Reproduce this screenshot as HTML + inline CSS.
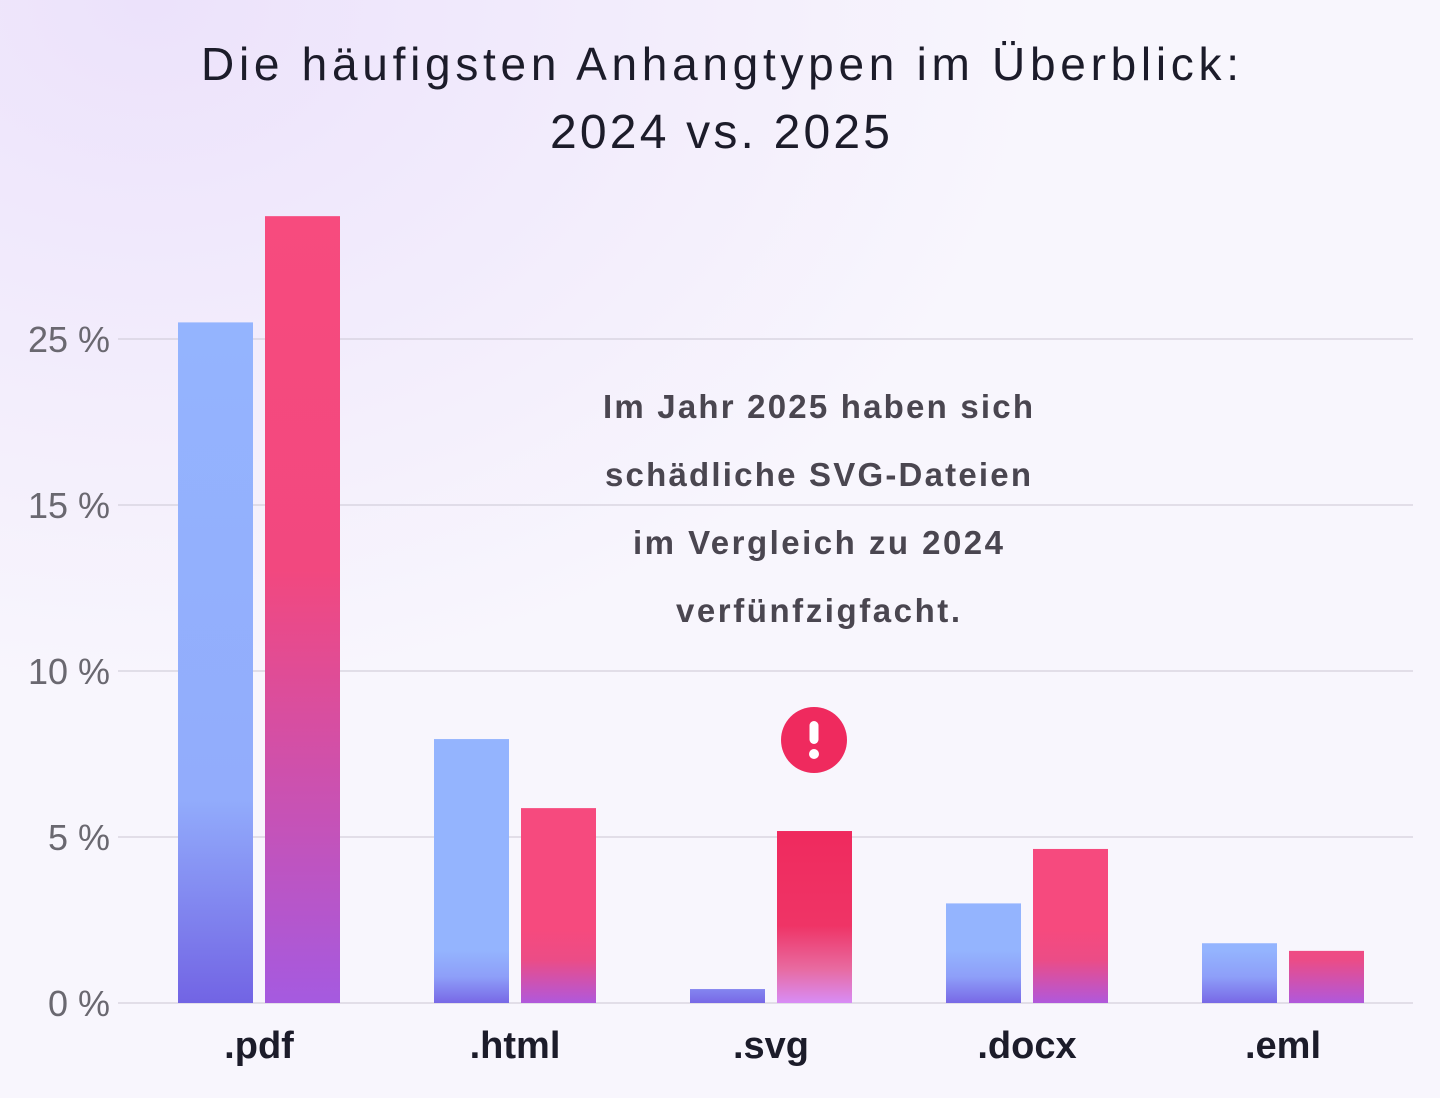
<!DOCTYPE html>
<html><head><meta charset="utf-8"><style>
body{margin:0;width:1440px;height:1098px;overflow:hidden;font-family:"Liberation Sans",sans-serif;}
</style></head><body>
<svg width="1440" height="1098" xmlns="http://www.w3.org/2000/svg">
<defs>
<radialGradient id="bg" cx="0" cy="0" r="1" gradientUnits="userSpaceOnUse" gradientTransform="translate(150,0) scale(900,700)">
<stop offset="0" stop-color="#ece2fb"/><stop offset="1" stop-color="#f8f6fd"/></radialGradient>
<linearGradient id="blue" x1="0" y1="0" x2="0" y2="1">
<stop offset="0" stop-color="#94b4fe"/><stop offset="0.7" stop-color="#92acfc"/><stop offset="1" stop-color="#7264e4"/></linearGradient>
<linearGradient id="blueS" gradientUnits="userSpaceOnUse" x1="0" y1="950" x2="0" y2="1003">
<stop offset="0" stop-color="#94b4fe"/><stop offset="0.5" stop-color="#8e9ff9"/><stop offset="1" stop-color="#7868e6"/></linearGradient>
<linearGradient id="red" x1="0" y1="0" x2="0" y2="1">
<stop offset="0" stop-color="#f74b7e"/><stop offset="0.45" stop-color="#f2487f"/><stop offset="1" stop-color="#a55ae0"/></linearGradient>
<linearGradient id="redS" gradientUnits="userSpaceOnUse" x1="0" y1="930" x2="0" y2="1003">
<stop offset="0" stop-color="#f64a7e"/><stop offset="0.4" stop-color="#ec4c86"/><stop offset="1" stop-color="#b058dc"/></linearGradient>
<linearGradient id="redsvg" x1="0" y1="0" x2="0" y2="1">
<stop offset="0" stop-color="#ef2a5e"/><stop offset="0.55" stop-color="#ef3466"/><stop offset="0.8" stop-color="#e86aa0"/><stop offset="1" stop-color="#d88cf6"/></linearGradient>
</defs>
<rect width="1440" height="1098" fill="url(#bg)"/>
<text x="720" y="80" text-anchor="middle" font-size="46" fill="#1c1c2a" textLength="1038" lengthAdjust="spacing">Die häufigsten Anhangtypen im Überblick:</text>
<text x="720" y="148" text-anchor="middle" font-size="48" fill="#1c1c2a" textLength="340" lengthAdjust="spacing">2024 vs. 2025</text>
<g id="grid"></g>
<g id="bars"></g>
<g id="labels"></g>
<g font-weight="bold" font-size="33" fill="#4a4650" text-anchor="middle">
<text x="818" y="418" textLength="430" lengthAdjust="spacing">Im Jahr 2025 haben sich</text>
<text x="818" y="486" textLength="426" lengthAdjust="spacing">schädliche SVG-Dateien</text>
<text x="818" y="554" textLength="370" lengthAdjust="spacing">im Vergleich zu 2024</text>
<text x="818" y="622" textLength="284" lengthAdjust="spacing">verfünfzigfacht.</text>
</g>
<g>
<circle cx="814" cy="740" r="33" fill="#ef2a5e"/>
<rect x="809.5" y="721" width="9" height="23" rx="4.5" fill="#fff"/>
<circle cx="814" cy="754" r="5" fill="#fff"/>
</g>
</svg>
<script>
const categories=[".pdf",".html",".svg",".docx",".eml"];
const values2024=[20.5,7.95,0.42,3.0,1.8];
const values2025=[23.7,5.87,5.18,4.64,1.57];
const tickValues=[0,5,10,15,20];
const tickLabels=["0 %","5 %","10 %","15 %","25 %"];
const NS="http://www.w3.org/2000/svg";
const y0=1003,pxPer=33.2;
const y=v=>y0-v*pxPer;
const xc=i=>259+i*256;
function mk(t,a,p){const e=document.createElementNS(NS,t);for(const k in a)e.setAttribute(k,a[k]);p.appendChild(e);return e;}
const grid=document.getElementById('grid'),bars=document.getElementById('bars'),labels=document.getElementById('labels');
tickValues.forEach((v,i)=>{
 const l=mk('line',{x1:118,x2:1413,y1:y(v),y2:y(v),stroke:'#d4d0dc','stroke-width':1.2},grid);
 
 
 const t=mk('text',{x:110,y:y(v)+13,'text-anchor':'end','font-size':36,fill:'#6a6870'},grid);
 t.textContent=tickLabels[i];
 
 
});
categories.forEach((c,i)=>{
 const bf=values2024[i]>12?'url(#blue)':'url(#blueS)';
 const b=mk('rect',{x:xc(i)-81,y:y(values2024[i]),width:75,height:values2024[i]*pxPer,fill:bf},bars);
 
 
 const rf=i==2?'url(#redsvg)':(values2025[i]>12?'url(#red)':'url(#redS)');
 const r=mk('rect',{x:xc(i)+6,y:y(values2025[i]),width:75,height:values2025[i]*pxPer,fill:rf},bars);
 
 
 const t=mk('text',{x:xc(i),y:1058,'text-anchor':'middle','font-size':38,'font-weight':'bold',fill:'#1c1c2a'},labels);
 t.textContent=c;
 
 
});
</script>
</body></html>
